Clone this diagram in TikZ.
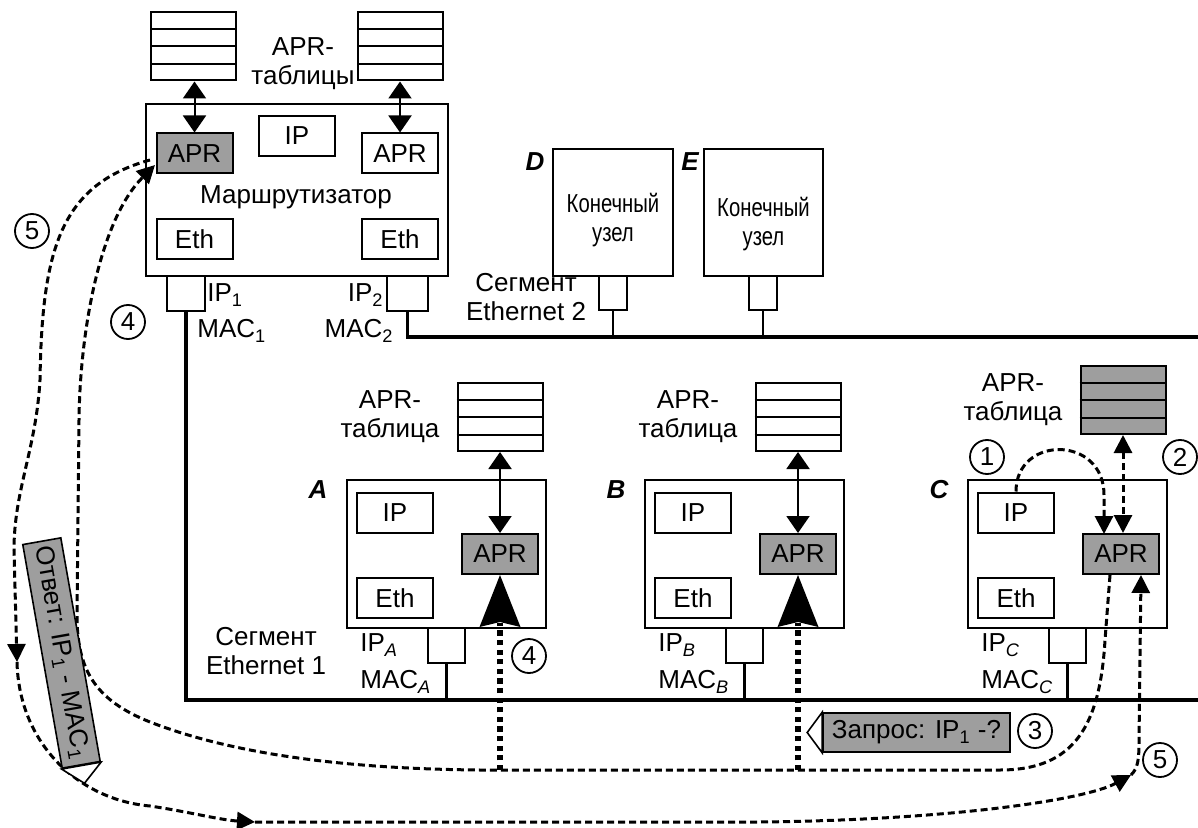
\documentclass[tikz,border=0pt]{standalone}
\usepackage{fontspec}
\setmainfont{Liberation Sans}
\newfontfamily\narrowfont[FakeStretch=0.78]{Liberation Sans}
\usetikzlibrary{arrows.meta,calc}
\definecolor{aprgray}{gray}{0.62}
\newcommand{\lab}{\fontsize{13pt}{14.5pt}\selectfont}
\newcommand{\tablerows}[1]{\foreach \i in {1,2,3}{\draw[line width=1pt] ($(#1.north west)!\i/4!(#1.south west)$) -- ($(#1.north east)!\i/4!(#1.south east)$);}}
\begin{document}
\begin{tikzpicture}[x=0.5pt,y=-0.5pt,
 every node/.style={font=\lab, inner sep=0pt},
 box/.style={draw, line width=1pt, minimum width=38pt, minimum height=20pt},
 graybox/.style={box, fill=aprgray},
 tbl/.style={draw, line width=1pt, minimum width=42.5pt, minimum height=34pt},
 host/.style={draw, line width=1pt, minimum width=99.5pt, minimum height=74pt},
 port/.style={draw, line width=1pt, minimum width=18.5pt, minimum height=17.5pt},
 lbl/.style={align=center},
 letter/.style={font=\lab\bfseries\itshape},
 num/.style={circle, draw, line width=0.9pt, minimum size=17pt},
 seg/.style={line width=1.6pt},
 dbl/.style={line width=1pt, {Triangle[length=8.5pt,width=11.5pt]}-{Triangle[length=8.5pt,width=11.5pt]}},
 dsh/.style={line width=1.5pt, dash pattern=on 3.5pt off 2pt},
 dtip/.style={-{Triangle[length=9pt,width=9pt]}},
 dotl/.style={line width=2.6pt, dash pattern=on 2.6pt off 2.2pt},
 tag/.style={draw, line width=0.8pt, fill=aprgray},
]
\useasboundingbox (0,0) rectangle (1198,828);

% ---------------- Router ----------------
\node[draw, line width=1pt, minimum width=151pt, minimum height=86pt] (R) at (297,190) {};
\node[tbl] (RT1) at (193.5,46.5) {};
\node[tbl] (RT2) at (400.5,46.5) {};
\tablerows{RT1}
\tablerows{RT2}
\node[lbl] (RTlab) at (303,64) {APR-\\таблицы};
\node[graybox] (R-apr1) at (194.5,153.5) {APR};
\node[box] (R-ip) at (297,136) {IP};
\node[box] (R-apr2) at (400,153.5) {APR};
\node (R-name) at (296,197) {Маршрутизатор};
\node[box] (R-eth1) at (194.5,239.5) {Eth};
\node[box] (R-eth2) at (400,239.5) {Eth};
\node[port, minimum width=19pt] (P1) at (186,293.5) {};
\node[port, minimum width=20.5pt] (P2) at (407.5,293.5) {};
\draw[dbl] (R-apr1.north |- RT1.south) -- (R-apr1.north);
\draw[dbl] (R-apr2.north |- RT2.south) -- (R-apr2.north);
\node[anchor=west] (ip1) at (207,295) {IP\textsubscript{1}};
\node[anchor=west] (mac1) at (197,331) {MAC\textsubscript{1}};
\node[anchor=east] (ip2) at (384,295) {IP\textsubscript{2}};
\node[anchor=east] (mac2) at (394,331) {MAC\textsubscript{2}};

% ---------------- Segment 2 and hosts D, E ----------------
\coordinate (S2L) at (407.5,337);
\coordinate (S2R) at (1198,337);
\draw[seg] (P2.south) -- (S2L) -- (S2R);
\node[lbl] (S2lab) at (526,297) {Сегмент\\Ethernet 2};
\node[draw, line width=1pt, minimum width=60pt, minimum height=63.5pt] (D) at (613,212.5) {};
\node[draw, line width=1pt, minimum width=59.5pt, minimum height=63.5pt] (E) at (763.5,212.5) {};
\node[lbl, font=\lab\narrowfont] (Dtxt) at (613,220) {Конечный\\узел};
\node[lbl, font=\lab\narrowfont] (Etxt) at (763.5,224) {Конечный\\узел};
\node[letter] (Dlab) at (535,162) {D};
\node[letter] (Elab) at (690,162) {E};
\node[port, minimum width=14pt, minimum height=17pt] (D-port) at (613,293) {};
\node[port, minimum width=14pt, minimum height=17pt] (E-port) at (763,293) {};
\draw[line width=1.2pt] (D-port.south) -- (D-port.south |- S2L);
\draw[line width=1.2pt] (E-port.south) -- (E-port.south |- S2L);

% ---------------- Segment 1 ----------------
\coordinate (S1L) at (186,700);
\coordinate (S1R) at (1198,700);
\draw[seg] (P1.south) -- (S1L) -- (S1R);
\node[lbl] (S1lab) at (266,651) {Сегмент\\Ethernet 1};

% ---------------- Hosts A, B, C ----------------
\foreach \h/\L in {A/347,B/645,C/968}{
 \node[host] (\h) at (\L+99.5,554) {};
 \node[box] (\h-ip) at (\L+48,512.5) {IP};
 \node[graybox] (\h-apr) at (\L+153,554) {APR};
 \node[box] (\h-eth) at (\L+48,598) {Eth};
 \node[port] (\h-port) at (\L+99.5,645.5) {};
 \node[letter] (\h-lab) at (\L-29,490) {\h};
 \node[anchor=west] (\h-iplab) at (\L+13,645) {IP\textsubscript{\itshape\h}};
 \node[anchor=west] (\h-maclab) at (\L+13,682) {MAC\textsubscript{\itshape\h}};
 \draw[line width=1.2pt] (\h-port.south) -- (\h-port.south |- S1L);
}
\foreach \h/\L in {A/347,B/645}{
 \node[tbl] (\h-tbl) at (\L+153,417) {};
 \tablerows{\h-tbl}
 \node[lbl] (\h-tlab) at (\L+43,417) {APR-\\таблица};
 \draw[dbl] (\h-tbl.south) -- (\h-apr.north);
 \coordinate (\h-bot) at (\L+153,770);
 \draw[dotl] (\h-bot) -- ($(\h-apr.south)+(0,48)$);
 \fill (\h-apr.south) -- ++(-20.5,52) -- ++(20.5,-5) -- ++(20.5,5) -- cycle;
}
% host C table
\node[tbl, fill=aprgray] (C-tbl) at (1123,400) {};
\tablerows{C-tbl}
\node[lbl] (C-tlab) at (1013,400) {APR-\\таблица};
\draw[dsh, dtip] (C-ip.north) .. controls (1016,435) and (1104,435) .. (1104,495) -- (1104,534);
\draw[dsh, {Triangle[length=9pt,width=9pt]}-{Triangle[length=9pt,width=9pt]}] (C-tbl.south) -- (C-tbl.south |- C-apr.north);

% ---------------- labels ----------------
\node[tag, minimum width=93.5pt, minimum height=19.5pt] (req) at (916.5,732.5) {Запрос: IP\textsubscript{1} -?};
\draw[line width=0.8pt, fill=white] (req.north west) -- ($(req.west)!-7.5pt!(req.center)$) -- (req.south west) -- cycle;

% ---------------- request path (3, 4) ----------------
\coordinate (r0) at (150,160);
\coordinate (r4) at (155,165);
\draw[dsh, dtip] ($(C-apr.south)+(-11,0)$) -- (1105,640) .. controls (1100,725) and (1075,770) .. (1000,770) -- (480,770) .. controls (360,769) and (240,757) .. (150,722) .. controls (95,700) and (77,670) .. (77,615) -- (79,420) .. controls (80,330) and (100,220) .. (r4);

% ---------------- reply path (5) ----------------
\coordinate (r1) at (17,662);
\coordinate (r2) at (255,822);
\coordinate (r3) at (1131,775);
\draw[dsh, dtip] (r0) .. controls (60,185) and (42,250) .. (40,380) .. controls (36,450) and (14,490) .. (14,550) -- (r1);
\draw[dsh, dtip] (r1) .. controls (19,745) and (80,800) .. (150,806) .. controls (190,812) and (220,820) .. (r2);
\draw[dsh, dtip] (r2) -- (760,822) .. controls (950,820) and (1085,800) .. (r3);
\draw[dsh, dtip] (r3) .. controls (1138,768) and (1139,760) .. (1139,740) -- ($(C-apr.south)+(20,0)$);

\node[tag, rotate=-80, minimum width=113.5pt, minimum height=19.3pt] (ans) at (61.5,653) {Ответ: IP\textsubscript{1} - MAC\textsubscript{1}};
\draw[line width=0.8pt, fill=white] (ans.north east) -- ($(ans.east)!-9pt!(ans.center)$) -- (ans.south east) -- cycle;

% ---------------- step numbers ----------------
\node[num] (n1) at (987,457) {1};
\node[num] (n2) at (1180,457) {2};
\node[num] (n3) at (1035,731) {3};
\node[num] (n4a) at (529,656) {4};
\node[num] (n4b) at (128,322) {4};
\node[num] (n5a) at (32,231) {5};
\node[num] (n5b) at (1160,760) {5};
\end{tikzpicture}
\end{document}
